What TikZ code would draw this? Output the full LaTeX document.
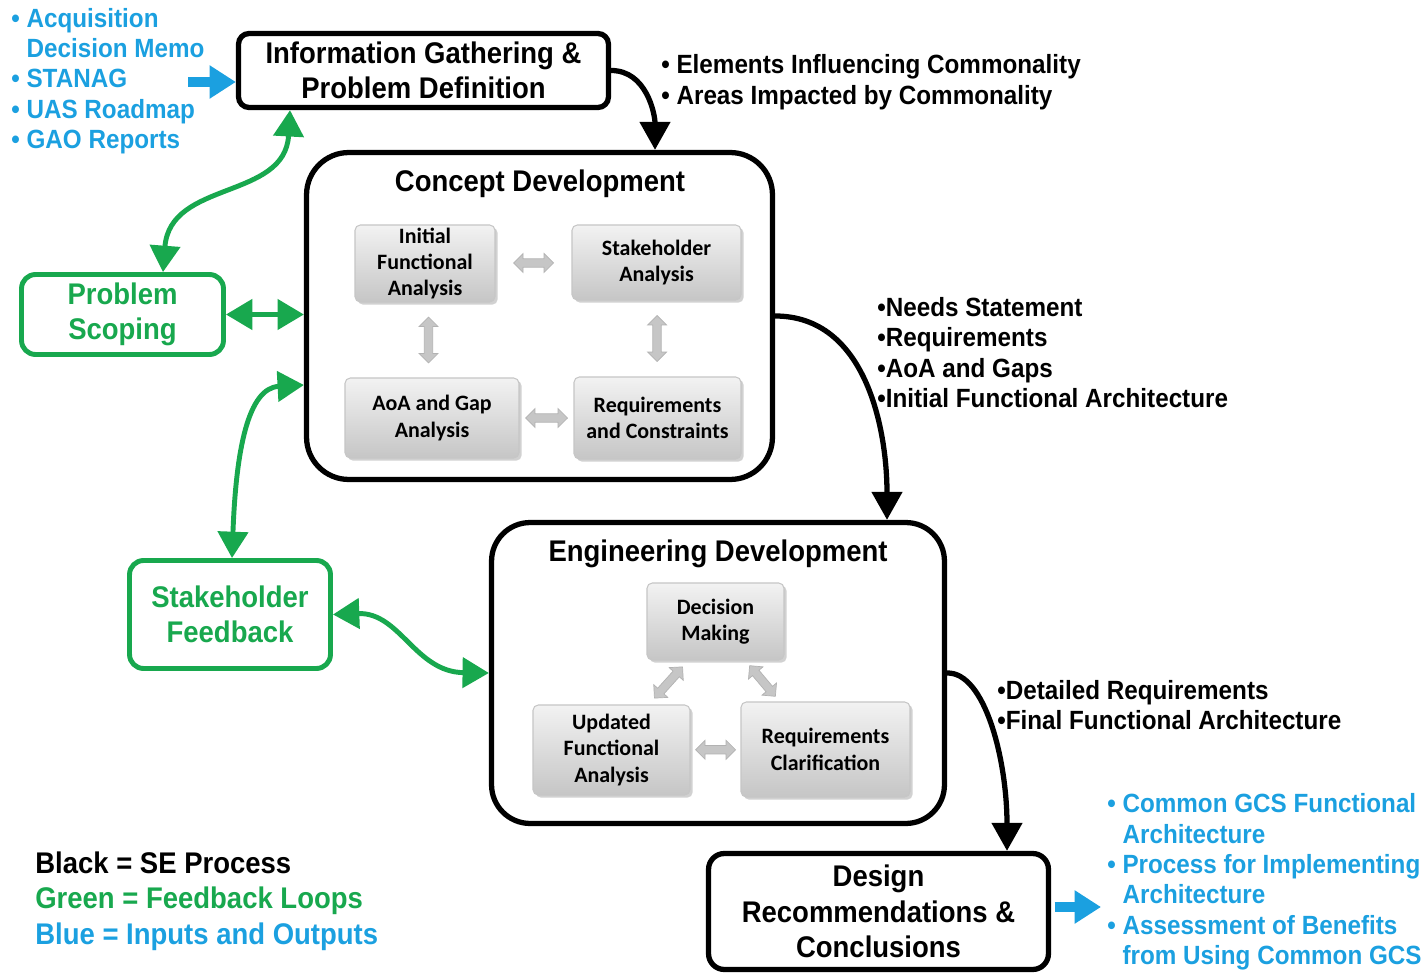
\documentclass[tikz,border=0pt]{standalone}
\usepackage{fontspec}
\setmainfont{Liberation Sans}[FakeStretch=0.92]
\newfontfamily\calfont{Carlito}
\usetikzlibrary{arrows.meta,shapes.arrows,shadows,calc}
\definecolor{fbgreen}{RGB}{24,168,78}
\definecolor{ioblue}{RGB}{27,160,224}
\tikzset{
  bigfont/.style={font=\fontsize{17}{20.2}\selectfont\bfseries},
  smallfont/.style={font=\fontsize{15}{17.3}\selectfont\bfseries},
  sebox/.style={draw=black, line width=3pt, fill=white, align=center, inner sep=0pt, bigfont},
  fbbox/.style={draw=fbgreen, text=fbgreen, line width=2.8pt, fill=white, rounded corners=8pt, align=center, inner sep=0pt, bigfont},
  innerbox/.style={rounded corners=3pt, draw=gray!45, line width=0.6pt,
    top color=gray!10, middle color=gray!2, bottom color=gray!45,
    drop shadow={shadow xshift=1.5pt, shadow yshift=-1.5pt, opacity=0.45, fill=gray!80},
    font=\calfont\fontsize{12.5}{15}\selectfont\bfseries, align=center, inner sep=0pt},
  grayarr/.style={double arrow, fill=gray!45, draw=gray!60, line width=0.4pt,
    minimum height=0.8cm, inner sep=2.2pt, double arrow head extend=3pt},
  txt/.style={inner sep=0pt, align=left, anchor=west},
  searrow/.style={line width=3pt, -{Triangle[length=16pt,width=17pt]}},
  fbarrow/.style={draw=fbgreen, line width=2.8pt, {Triangle[length=15pt,width=17pt]}-{Triangle[length=15pt,width=17pt]}},
  ioarrow/.style={draw=ioblue, line width=5.5pt, -{Triangle[length=15pt,width=18pt]}},
}
\begin{document}
\begin{tikzpicture}[x=0.02cm,y=0.02cm]
\useasboundingbox (0,0) rectangle (1423,-976);

% main process boxes
\node[sebox, rounded corners=6pt, minimum width=7.4cm, minimum height=1.48cm] (info) at (423.5,-70.5)
  {Information Gathering \&\\Problem Definition};
\node[sebox, rounded corners=24pt, minimum width=9.32cm, minimum height=6.54cm] (concept) at (539.5,-316) {};
\node[sebox, rounded corners=22pt, minimum width=9.06cm, minimum height=6.02cm] (eng) at (718,-673) {};
\node[sebox, rounded corners=9pt, minimum width=6.8cm, minimum height=2.32cm] (design) at (878.5,-911.5)
  {Design\\Recommendations \&\\Conclusions};

\node[bigfont, inner sep=0pt] (cdtitle) at (540,-184) {Concept Development};
\node[bigfont, inner sep=0pt] (edtitle) at (718,-554) {Engineering Development};

% feedback boxes
\node[fbbox, minimum width=4.04cm, minimum height=1.6cm] (ps) at (122.5,-314.5) {Problem\\Scoping};
\node[fbbox, minimum width=4.02cm, minimum height=2.16cm] (sf) at (230,-614.5) {Stakeholder\\Feedback};

% inner boxes: concept development
\node[innerbox, minimum width=2.8cm, minimum height=1.54cm] (ifa) at (425,-263.5) {Initial\\Functional\\Analysis};
\node[innerbox, minimum width=3.38cm, minimum height=1.5cm] (sa) at (656.5,-262.5) {Stakeholder\\Analysis};
\node[innerbox, minimum width=3.48cm, minimum height=1.6cm] (aoa) at (432,-418) {AoA and Gap\\Analysis};
\node[innerbox, minimum width=3.34cm, minimum height=1.64cm] (rc) at (657.5,-418) {Requirements\\and Constraints};

% inner boxes: engineering development
\node[innerbox, minimum width=2.74cm, minimum height=1.54cm] (dm) at (715.5,-621.5) {Decision\\Making};
\node[innerbox, minimum width=3.14cm, minimum height=1.8cm] (ufa) at (611.5,-750) {Updated\\Functional\\Analysis};
\node[innerbox, minimum width=3.38cm, minimum height=1.9cm] (rcl) at (825.5,-749.5) {Requirements\\Clarification};

% gray double arrows
\node[grayarr] (g1) at ($(ifa.east)!0.5!(sa.west)$) {};
\node[grayarr, rotate=90, minimum height=0.92cm] (g2) at ($(ifa.south)!0.5!(aoa.north)$) {};
\node[grayarr, rotate=90, minimum height=0.92cm] (g3) at ($(sa.south)!0.5!(rc.north)$) {};
\node[grayarr, minimum height=0.84cm] (g4) at ($(aoa.east)!0.5!(rc.west)$) {};
\node[grayarr, rotate=48, minimum height=0.84cm] (g5) at ($(dm.south west)!0.5!(ufa.north east)$) {};
\node[grayarr, rotate=-50, minimum height=0.8cm] (g6) at ($(dm.south east)!0.5!(rcl.north west)$) {};
\node[grayarr, minimum height=0.8cm] (g7) at ($(ufa.east)!0.5!(rcl.west)$) {};

% text lists
\node[txt, smallfont, text=ioblue] (inputs) at (11,-81)
  {• Acquisition\\\phantom{• }Decision Memo\\• STANAG\\• UAS Roadmap\\• GAO Reports};
\node[txt, smallfont] (infl) at (661,-82)
  {• Elements Influencing Commonality\\• Areas Impacted by Commonality};
\node[txt, smallfont] (needs) at (877,-352.5)
  {•Needs Statement\\•Requirements\\•AoA and Gaps\\•Initial Functional Architecture};
\node[txt, smallfont] (detail) at (997,-705)
  {•Detailed Requirements\\•Final Functional Architecture};
\node[txt, smallfont, text=ioblue] (outputs) at (1107,-882)
  {• Common GCS Functional\\\phantom{• }Architecture\\• Process for Implementing\\\phantom{• }Architecture\\• Assessment of Benefits\\\phantom{• }from Using Common GCS};
\node[txt, bigfont] (legend) at (35,-901)
  {Black = SE Process\\\textcolor{fbgreen}{Green = Feedback Loops}\\\textcolor{ioblue}{Blue = Inputs and Outputs}};

% SE process arrows
\draw[searrow] (info.east) to[out=0,in=90] ($(concept.north)+(115.5,0)$);
\draw[searrow] (concept.east) to[out=0,in=90] ($(eng.north)+(169,0)$);
\draw[searrow] (eng.east) .. controls (985,-672) and (1007,-760) .. ($(design.north)+(128.5,0)$);

% feedback arrows
\draw[fbarrow] ($(ps.north)+(40.5,0)$) .. controls (170,-180) and (285,-200) .. ($(info.south)+(-133.5,0)$);
\draw[fbarrow] (ps.east) -- (ps.east -| concept.west);
\draw[fbarrow] ($(sf.north)+(2,0)$) .. controls (236,-450) and (248,-388) .. ($(concept.west)+(0,-69)$);
\draw[fbarrow] (sf.east) .. controls (400,-612) and (415,-672) .. (eng.west);

% inputs / outputs
\coordinate (inarrow) at (188,-82);
\draw[ioarrow] (inarrow) -- (inarrow -| info.west);
\coordinate (outarrow) at (1101,-907);
\draw[ioarrow, shorten <=2pt] (outarrow -| design.east) -- (outarrow);
\end{tikzpicture}
\end{document}
